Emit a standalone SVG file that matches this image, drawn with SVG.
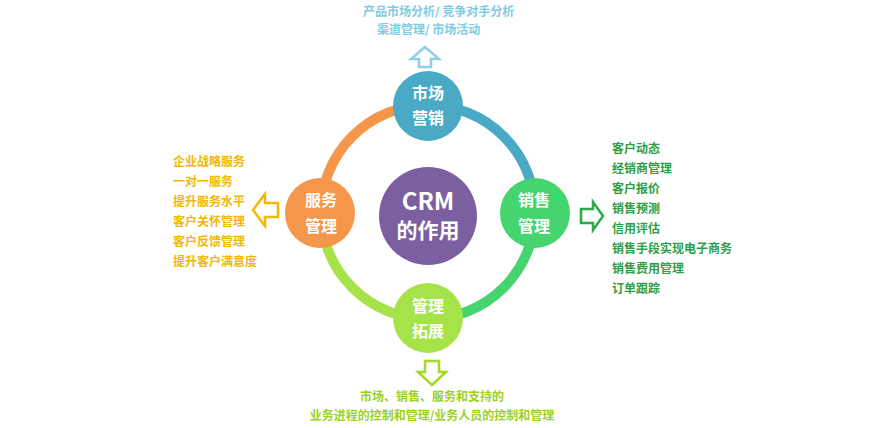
<svg xmlns="http://www.w3.org/2000/svg" width="881" height="428" viewBox="0 0 881 428">
<style>
text{font-family:"Noto Sans CJK SC","Liberation Sans",sans-serif;font-weight:bold}
.lbl{fill:#fff;font-size:16px;text-anchor:middle}
.ring{fill:none;stroke-width:10}
.arr{fill:#fff;stroke-width:2.5;stroke-linejoin:miter}
.top{fill:#7fcbe3;font-size:12px}
.lft{fill:#f2b705;font-size:12px}
.rgt{fill:#2f9e44;font-size:12px}
.bot{fill:#9dd11f;font-size:12px;text-anchor:middle}
</style>
<rect width="881" height="428" fill="#fff"/>
<g id="connectors">
<path class="ring" stroke="#4aaac5" d="M428,105 A107,107 0 0 1 535,212"/>
<path class="ring" stroke="#45d46e" d="M535,212 A107,107 0 0 1 428,319"/>
<path class="ring" stroke="#a6e24a" d="M428,319 A107,107 0 0 1 321,212"/>
<path class="ring" stroke="#f5964a" d="M321,212 A107,107 0 0 1 428,105"/>
<path class="arr" stroke="#8fd0e6" d="M425,47 L439,59 L431,59 L431,67 L419,67 L419,59 L411,59 Z"/>
<path class="arr" stroke="#f5b800" d="M253,210 L265,194 L265,203 L278,203 L278,217 L265,217 L265,226 Z"/>
<path class="arr" stroke="#2eaa48" d="M603,216 L593,202 L593,209 L581,209 L581,223 L593,223 L593,230 Z"/>
<path class="arr" stroke="#a6d82a" d="M432,385 L446,372 L439,372 L439,361 L425,361 L425,372 L418,372 Z"/>
</g>
<g id="center">
<circle cx="428" cy="216" r="49" fill="#7b5fa0"/>
<text x="428" y="210" fill="#fff" font-size="24" text-anchor="middle">CRM</text>
<text x="428" y="238" fill="#fff" font-size="21" text-anchor="middle">的作用</text>
</g>
<g id="node-market">
<circle cx="428" cy="106" r="35" fill="#4aaac5"/>
<text class="lbl" x="428" y="99">市场</text>
<text class="lbl" x="428" y="124">营销</text>
</g>
<g id="node-sales">
<circle cx="535" cy="213" r="35" fill="#45d46e"/>
<text class="lbl" x="534" y="206">销售</text>
<text class="lbl" x="534" y="232">管理</text>
</g>
<g id="node-expand">
<circle cx="428" cy="318" r="35" fill="#a6e24a"/>
<text class="lbl" x="428" y="312">管理</text>
<text class="lbl" x="428" y="337">拓展</text>
</g>
<g id="node-service">
<circle cx="320" cy="213" r="35" fill="#f5964a"/>
<text class="lbl" x="321" y="206">服务</text>
<text class="lbl" x="321" y="232">管理</text>
</g>
<g id="text-top">
<text class="top" x="363" y="16">产品市场分析/ 竞争对手分析</text>
<text class="top" x="377" y="34">渠道管理/ 市场活动</text>
</g>
<g id="text-left">
<text class="lft" x="173" y="166">企业战略服务</text>
<text class="lft" x="173" y="186">一对一服务</text>
<text class="lft" x="173" y="206">提升服务水平</text>
<text class="lft" x="173" y="226">客户关怀管理</text>
<text class="lft" x="173" y="246">客户反馈管理</text>
<text class="lft" x="173" y="266">提升客户满意度</text>
</g>
<g id="text-right">
<text class="rgt" x="612" y="153">客户动态</text>
<text class="rgt" x="612" y="173">经销商管理</text>
<text class="rgt" x="612" y="193">客户报价</text>
<text class="rgt" x="612" y="213">销售预测</text>
<text class="rgt" x="612" y="233">信用评估</text>
<text class="rgt" x="612" y="253">销售手段实现电子商务</text>
<text class="rgt" x="612" y="273">销售费用管理</text>
<text class="rgt" x="612" y="293">订单跟踪</text>
</g>
<g id="text-bottom">
<text class="bot" x="432" y="401">市场、销售、服务和支持的</text>
<text class="bot" x="432" y="420">业务进程的控制和管理/业务人员的控制和管理</text>
</g>
</svg>
